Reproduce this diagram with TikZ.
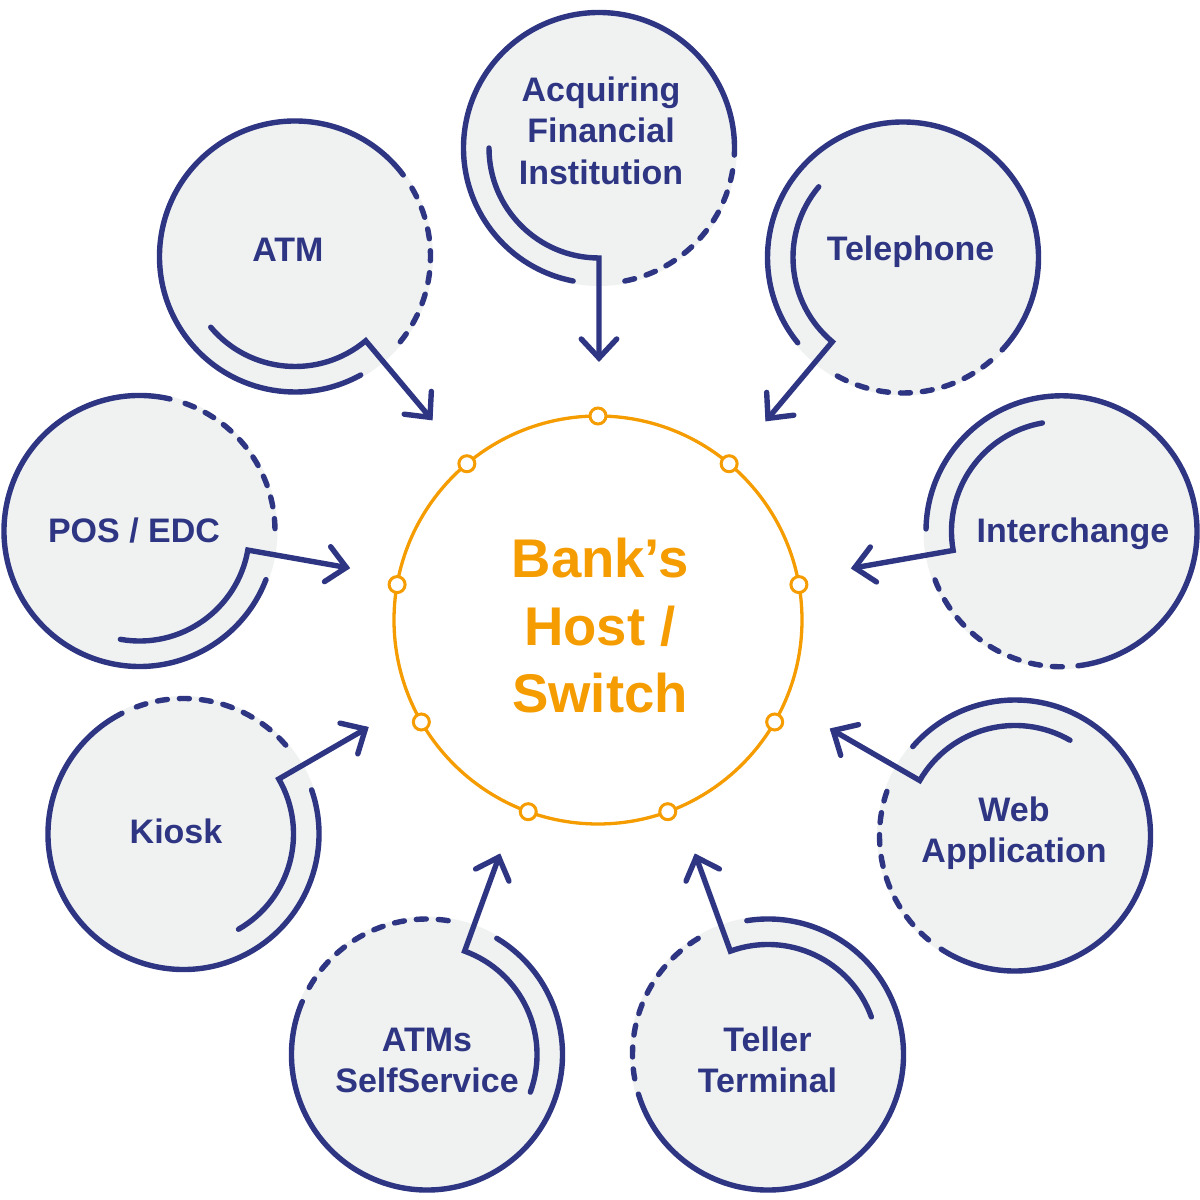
\documentclass[tikz,border=0pt]{standalone}
\usepackage{fontspec}
\setmainfont{Liberation Sans}
\usetikzlibrary{calc}
\definecolor{navy}{HTML}{2E3582}
\definecolor{orng}{HTML}{F59C00}
\definecolor{disk}{HTML}{F0F2F2}
\tikzset{
  satfill/.style={circle, fill=disk, inner sep=0pt, minimum size=276pt},
  solidarc/.style={draw=navy, line width=5.4pt, line cap=round},
  dasharc/.style={draw=navy, line width=5.4pt, line cap=round, dash pattern=on 10pt off 12pt},
  innerarc/.style={draw=navy, line width=5.4pt, line cap=round, line join=miter},
  chevron/.style={draw=navy, line width=5.4pt, line cap=round, line join=miter},
  lbl/.style={text=navy, font=\bfseries\fontsize{34}{40}\selectfont, inner sep=0pt, anchor=base},
  hublbl/.style={text=orng, font=\bfseries\fontsize{54.5}{66}\selectfont, inner sep=0pt, anchor=base},
  hubring/.style={circle, draw=orng, line width=3.3pt, inner sep=0pt, minimum size=408pt, fill=white},
  hubdot/.style={circle, draw=orng, line width=3pt, fill=white, inner sep=0pt, minimum size=16pt},
}
\newcommand\satellite[4]{%
  \node[satfill] (#1) at (#2,#3) {};
  \draw[solidarc] ($(#1.center)+(#4+87:135.5)$) arc[start angle=#4+87, end angle=#4+349, radius=135.5];
  \draw[dasharc] ($(#1.center)+(#4+11:135.5)$) arc[start angle=#4+11, end angle=#4+83, radius=135.5];
  \coordinate (#1-tip) at ($(#1.center)+(#4:210)$);
  \coordinate (#1-a) at ($(#1-tip)+(#4+137:26)$);
  \coordinate (#1-b) at ($(#1-tip)+(#4+223:26)$);
  \draw[innerarc] ($(#1.center)+(#4-90:110)$) arc[start angle=#4-90, end angle=#4, radius=110] -- (#1-tip);
  \draw[chevron] (#1-a) -- (#1-tip) -- (#1-b);
}
\begin{document}
\begin{tikzpicture}[x=1pt,y=1pt]
\useasboundingbox (0,0) rectangle (1200,1200);
% hub
\node[hubring] (hub) at (598,580) {};
\foreach \a [count=\i] in {90,50,10,-30,-70,-110,-150,170,130}
  \node[hubdot] (dot\i) at ($(hub.center)+(\a:204)$) {};
\node[hublbl] (hub1) at (600,622) {Bank’s};
\node[hublbl] (hub2) at (600,554) {Host /};
\node[hublbl] (hub3) at (600,487) {Switch};
% satellites
\satellite{acq}{599}{1052}{270}
\satellite{atm}{295}{943.5}{-50}
\satellite{tel}{903}{942.5}{230}
\satellite{intc}{1061.5}{668.7}{190}
\satellite{web}{1015}{364.5}{150}
\satellite{tell}{768}{145.5}{110}
\satellite{atms}{427}{145.5}{70}
\satellite{kiosk}{183.5}{366}{30}
\satellite{pos}{139.5}{669}{-10}
% labels
\node[lbl] (acq1) at (601,1098.3) {Acquiring};
\node[lbl] (acq2) at (601,1057) {Financial};
\node[lbl] (acq3) at (601,1015) {Institution};
\node[lbl] (atm1) at (288,938.3) {ATM};
\node[lbl] (tel1) at (910.5,939.3) {Telephone};
\node[lbl] (intc1) at (1073,657.3) {Interchange};
\node[lbl] (web1) at (1014,378.3) {Web};
\node[lbl] (web2) at (1014,337.3) {Application};
\node[lbl] (tell1) at (767.5,148.3) {Teller};
\node[lbl] (tell2) at (767.5,107) {Terminal};
\node[lbl] (atms1) at (427,148.3) {ATMs};
\node[lbl] (atms2) at (427,107.7) {SelfService};
\node[lbl] (kiosk1) at (176,356.7) {Kiosk};
\node[lbl] (pos1) at (134,657) {POS / EDC};
\end{tikzpicture}
\end{document}
